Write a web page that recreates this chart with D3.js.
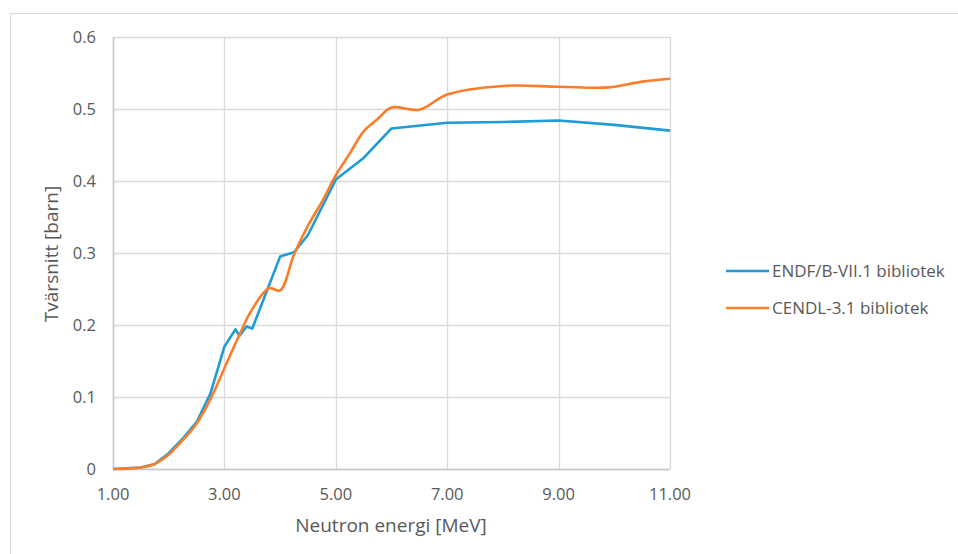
<!DOCTYPE html>
<html>
<head>
<meta charset="utf-8">
<script src="https://cdn.jsdelivr.net/npm/d3@7"></script>
<style>
  body { margin: 0; background: #fff; }
  svg text { font-family: "Open Sans", Carlito, Calibri, sans-serif; fill: #595959; }
</style>
</head>
<body>
<svg width="958" height="554"></svg>
<script>
// ENDF/B-VII.1 (straight segments)
var endfE = [1.0, 1.25, 1.5, 1.75, 2.0, 2.25, 2.5, 2.75, 3.0, 3.2, 3.27, 3.4, 3.5, 4.0, 4.25, 4.5, 5.0, 5.5, 6.0, 7.0, 8.0, 9.0, 10.0, 11.0];
var endfV = [0, 0.001, 0.002, 0.007, 0.022, 0.042, 0.065, 0.105, 0.170, 0.194, 0.185, 0.198, 0.195, 0.295, 0.301, 0.325, 0.402, 0.432, 0.473, 0.481, 0.482, 0.484, 0.478, 0.470];

// CENDL-3.1 (smoothed)
var cendlE = [1.0, 1.25, 1.5, 1.75, 2.0, 2.25, 2.5, 2.75, 3.0, 3.25, 3.5, 3.8, 4.0, 4.25, 4.5, 4.75, 5.0, 5.25, 5.5, 5.75, 6.0, 6.5, 7.0, 8.0, 9.0, 9.9, 10.5, 11.0];
var cendlV = [0, 0.0005, 0.002, 0.007, 0.02, 0.04, 0.063, 0.097, 0.14, 0.183, 0.222, 0.251, 0.248, 0.298, 0.338, 0.371, 0.408, 0.438, 0.469, 0.486, 0.502, 0.499, 0.520, 0.532, 0.531, 0.530, 0.538, 0.542];

var xTicks = [1, 3, 5, 7, 9, 11];
var yTicks = [0, 0.1, 0.2, 0.3, 0.4, 0.5, 0.6];
var seriesNames = ["ENDF/B-VII.1 bibliotek", "CENDL-3.1 bibliotek"];
var colors = ["#1f9bd7", "#fb7d2a"];

var svg = d3.select("svg");

// outer chart frame
svg.append("rect")
    .attr("x", 10.5).attr("y", 13.5)
    .attr("width", 970).attr("height", 570)
    .attr("fill", "none").attr("stroke", "#d9d9d9");

var x = d3.scaleLinear().domain([1, 11]).range([113, 670]);
var y = d3.scaleLinear().domain([0, 0.6]).range([469, 37]);

// gridlines
svg.append("g").selectAll("line").data(yTicks).enter().append("line")
    .attr("x1", x(1)).attr("x2", x(11))
    .attr("y1", function(d) { return Math.round(y(d)) + 0.5; })
    .attr("y2", function(d) { return Math.round(y(d)) + 0.5; })
    .attr("stroke", "#d9d9d9").attr("stroke-width", 1.3);

svg.append("g").selectAll("line").data(xTicks).enter().append("line")
    .attr("x1", function(d) { return Math.round(x(d)) + 0.5; })
    .attr("x2", function(d) { return Math.round(x(d)) + 0.5; })
    .attr("y1", y(0.6)).attr("y2", y(0))
    .attr("stroke", "#d9d9d9").attr("stroke-width", 1.3);

// axis lines
svg.append("line").attr("x1", x(1)).attr("x2", x(11))
    .attr("y1", Math.round(y(0)) + 0.5).attr("y2", Math.round(y(0)) + 0.5)
    .attr("stroke", "#c8c8c8").attr("stroke-width", 1.5);
svg.append("line").attr("x1", Math.round(x(1)) + 0.5).attr("x2", Math.round(x(1)) + 0.5)
    .attr("y1", y(0.6)).attr("y2", y(0))
    .attr("stroke", "#c8c8c8").attr("stroke-width", 1.5);

// tick labels
svg.append("g").selectAll("text").data(yTicks).enter().append("text")
    .attr("x", 96).attr("y", function(d) { return y(d); })
    .attr("dy", "0.35em")
    .attr("text-anchor", "end")
    .style("font-size", "16.5px")
    .text(function(d) { return d3.format("")(+d.toFixed(1)); });

svg.append("g").selectAll("text").data(xTicks).enter().append("text")
    .attr("x", function(d) { return x(d); }).attr("y", 500)
    .attr("text-anchor", "middle")
    .style("font-size", "16.5px")
    .text(function(d) { return d.toFixed(2); });

// axis titles
svg.append("text")
    .attr("x", 391).attr("y", 532)
    .attr("text-anchor", "middle")
    .style("font-size", "19px")
    .text("Neutron energi [MeV]");

svg.append("text")
    .attr("transform", "translate(58,254) rotate(-90)")
    .attr("text-anchor", "middle")
    .style("font-size", "19px")
    .text("Tvärsnitt [barn]");

// series
var line = d3.line()
    .x(function(d) { return x(d[0]); })
    .y(function(d) { return y(d[1]); });

svg.append("path")
    .datum(d3.zip(endfE, endfV))
    .attr("d", line.curve(d3.curveLinear))
    .attr("fill", "none").attr("stroke", colors[0])
    .attr("stroke-width", 2.6).attr("stroke-linejoin", "round");

svg.append("path")
    .datum(d3.zip(cendlE, cendlV))
    .attr("d", line.curve(d3.curveCatmullRom.alpha(0.5)))
    .attr("fill", "none").attr("stroke", colors[1])
    .attr("stroke-width", 2.6).attr("stroke-linejoin", "round");

// legend
var legend = svg.append("g").selectAll("g").data(seriesNames).enter().append("g")
    .attr("transform", function(d, i) { return "translate(726," + (271 + i * 37) + ")"; });

legend.append("line")
    .attr("x1", 0).attr("x2", 43)
    .attr("stroke", function(d, i) { return colors[i]; })
    .attr("stroke-width", 2.6);

legend.append("text")
    .attr("x", 46).attr("dy", "0.35em")
    .style("font-size", "17px")
    .text(function(d) { return d; });
</script>
</body>
</html>
